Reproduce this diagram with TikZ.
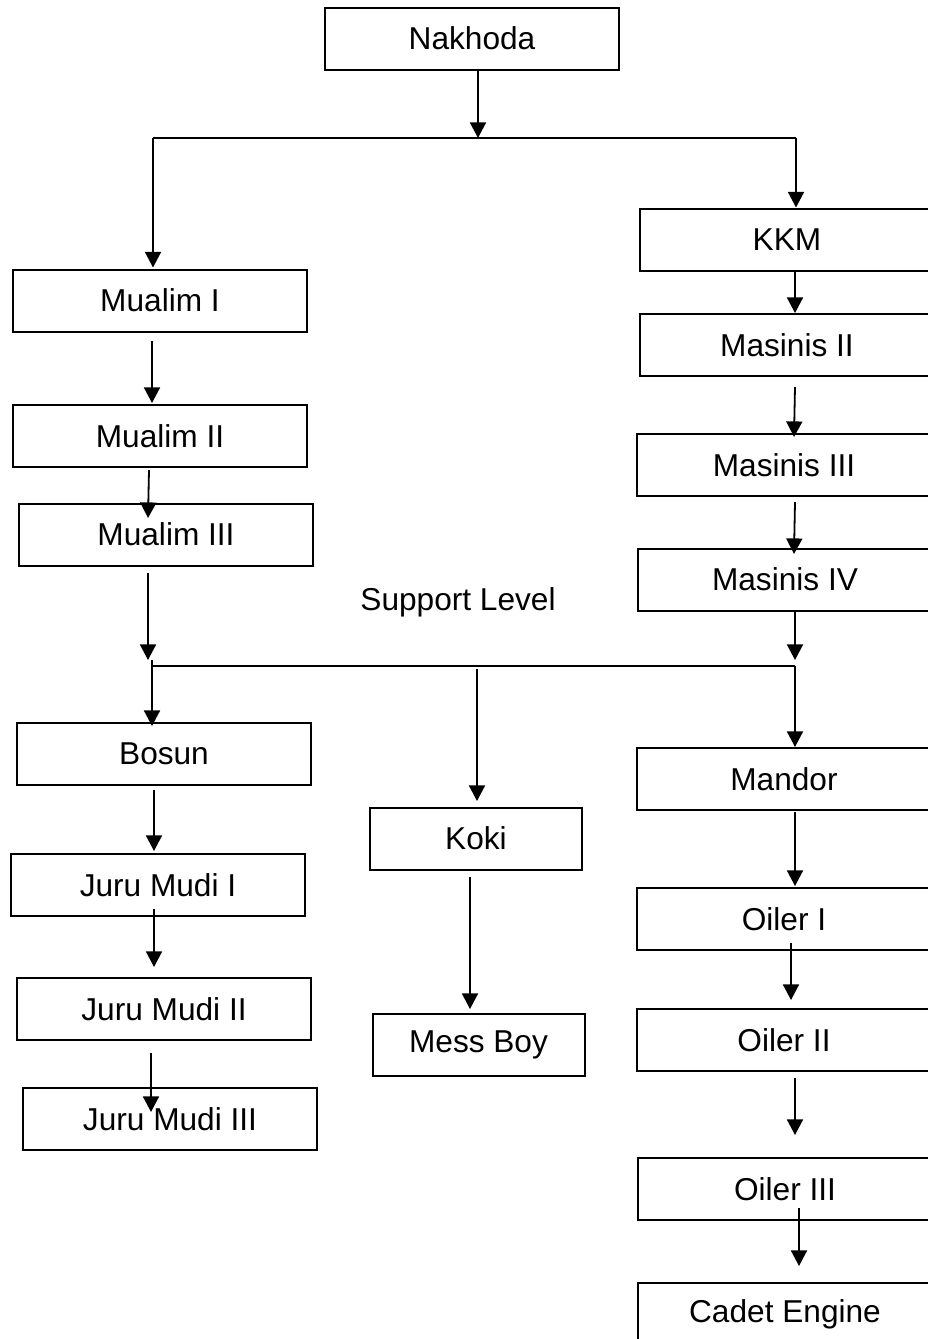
\documentclass[tikz,border=0pt]{standalone}
\usepackage{fontspec}
\setmainfont{Liberation Sans}
\usetikzlibrary{calc,arrows.meta}
\tikzstyle{rank}=[draw,line width=0.5mm,rectangle,minimum width=73.5mm,minimum height=15.5mm,inner sep=0pt,font=\fontsize{22.5}{27}\selectfont]
\tikzstyle{galley}=[rank,minimum width=53mm]
\tikzstyle{link}=[line width=0.45mm,-{Triangle[length=3.9mm,width=4mm]}]
\tikzstyle{bus}=[line width=0.45mm]

\begin{document}
\begin{tikzpicture}[x=0.25mm,y=-0.25mm]
\useasboundingbox (0,0) rectangle (928,1339);
\clip (0,0) rectangle (928,1339);
\node[rank] (Nakhoda) at (472,38.5) {Nakhoda};
\node[rank] (MualimI) at (160,300.5) {Mualim I};
\node[rank] (MualimII) at (160,436) {Mualim II};
\node[rank] (MualimIII) at (166,534.5) {Mualim III};
\node[rank] (KKM) at (787,239.5) {KKM};
\node[rank] (MasinisII) at (787,345) {Masinis II};
\node[rank] (MasinisIII) at (784,465) {Masinis III};
\node[rank] (MasinisIV) at (785,579.5) {Masinis IV};
\node[font=\fontsize{22.5}{27}\selectfont] (Support) at (458,602) {Support Level};
\node[rank] (Bosun) at (164,753.5) {Bosun};
\node[rank] (JuruI) at (158,885) {Juru Mudi I};
\node[rank] (JuruII) at (164,1009) {Juru Mudi II};
\node[rank] (JuruIII) at (170,1119) {Juru Mudi III};
\node[galley] (Koki) at (476,838.5) {Koki};
\node[galley] (MessBoy) at (478.5,1044.5) {Mess Boy};
\node[rank] (Mandor) at (784,779) {Mandor};
\node[rank] (OilerI) at (784,919) {Oiler I};
\node[rank] (OilerII) at (784,1040) {Oiler II};
\node[rank] (OilerIII) at (785,1189) {Oiler III};
\node[rank] (Cadet) at (785,1314) {Cadet Engine};
% junction lines
\coordinate (busA) at (478,138);
\coordinate (busAL) at (153,138);
\coordinate (busAR) at (796,138);
\coordinate (busBL) at (152,666);
\coordinate (busBR) at (795,666);
\coordinate (busBM) at (477,669);
\draw[link] ($(Nakhoda.south)+(6,0)$) -- (busA);
\draw[bus] (busAL) -- (busAR);
\draw[link] (busAL) -- ($(busAL |- MualimI.north)+(0,-1)$);
\draw[link] (busAR) -- (busAR |- KKM.north);
% deck side
\draw[link] ($(MualimI.south)+(-8,8.5)$) -- ($(MualimII.north)+(-8,-1)$);
\draw[link] ($(MualimII.south)+(-11,2)$) -- ($(MualimIII.north)+(-18,15.5)$);
\draw[link] ($(MualimIII.south)+(-18,6.5)$) -- ($(busBL)+(-4,-6)$);
% engine side
\draw[link] ($(KKM.south)+(8,0.5)$) -- ($(MasinisII.north)+(8,0)$);
\draw[link] ($(MasinisII.south)+(8,10)$) -- ($(MasinisIII.north)+(10,4)$);
\draw[link] ($(MasinisIII.south)+(11,5)$) -- ($(MasinisIV.north)+(9,6.5)$);
\draw[link] ($(MasinisIV.south)+(10,0.5)$) -- ($(busBR)+(0,-6)$);
% support level
\draw[bus] (busBL) -- (busBR);
\draw[link] ($(busBL)+(0,-6)$) -- ($(Bosun.north)+(-12,4.5)$);
\draw[link] (busBM) -- ($(Koki.north)+(1,-5.5)$);
\draw[link] (busBR) -- ($(Mandor.north)+(11,0)$);
\draw[link] ($(Bosun.south)+(-10,4.5)$) -- ($(JuruI.north)+(-4,-2)$);
\draw[link] ($(JuruI.south)+(-4,-8)$) -- ($(JuruII.north)+(-10,-10)$);
\draw[link] ($(JuruII.south)+(-13,12)$) -- ($(JuruIII.north)+(-19,25)$);
\draw[link] ($(Koki.south)+(-6,6.5)$) -- ($(MessBoy.north)+(-8.5,-3.5)$);
\draw[link] ($(Mandor.south)+(11,1)$) -- ($(OilerI.north)+(11,-1)$);
\draw[link] ($(OilerI.south)+(7,-8)$) -- ($(OilerII.north)+(7,-8)$);
\draw[link] ($(OilerII.south)+(11,6)$) -- ($(OilerIII.north)+(10,-22)$);
\draw[link] ($(OilerIII.south)+(14,-13)$) -- ($(Cadet.north)+(14,-16)$);
\end{tikzpicture}
\end{document}
